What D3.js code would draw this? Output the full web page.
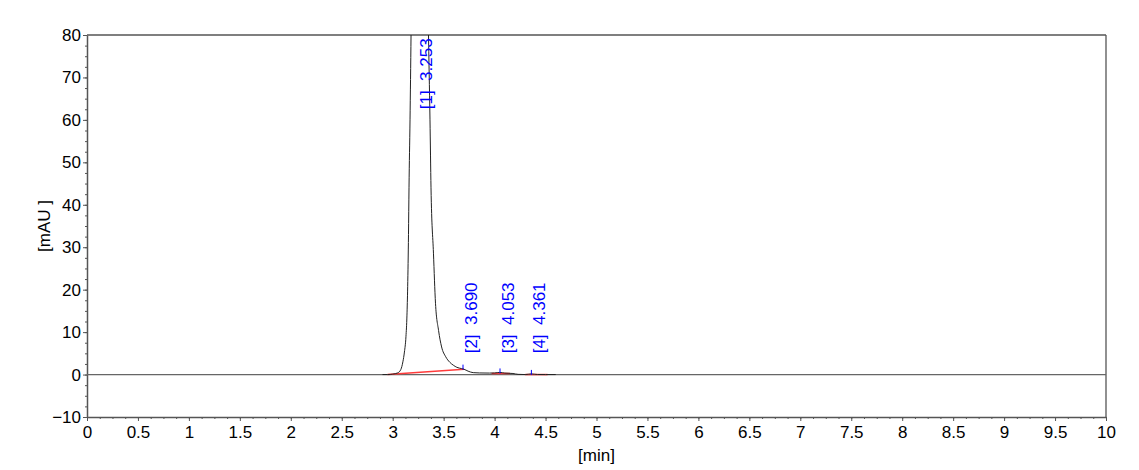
<!DOCTYPE html>
<html>
<head>
<meta charset="utf-8">
<script src="https://cdn.jsdelivr.net/npm/d3@7/dist/d3.min.js"></script>
<style>
  body { margin: 0; background: #fff; }
  text { font-family: Arial, "Liberation Sans", sans-serif; }
</style>
</head>
<body>
<svg id="chart" width="1139" height="470"></svg>
<script>
// chromatogram trace (min, mAU)
const timeMin = [2.90, 2.95, 3.00, 3.05, 3.08, 3.10, 3.115, 3.13, 3.14, 3.147, 3.155, 3.16, 3.17, 3.18, 3.20, 3.22, 3.253,
                 3.29, 3.32, 3.35, 3.366, 3.376, 3.40, 3.42, 3.45, 3.48, 3.52, 3.56, 3.595, 3.63, 3.677,
                 3.70, 3.74, 3.79, 3.85, 3.95, 4.00, 4.05, 4.10, 4.18, 4.23, 4.30, 4.36, 4.42, 4.50, 4.60];
const signalMAU = [0.0, 0.0, 0.1, 0.4, 1.2, 3.0, 5.3, 8.9, 14.0, 20.7, 33.0, 44.0, 60.0, 80.0, 130, 200, 270,
                   210, 140, 82, 60, 44, 28.6, 16.8, 10.4, 6.5, 4.2, 2.9, 2.2, 1.7, 1.4,
                   1.25, 0.8, 0.45, 0.38, 0.35, 0.38, 0.5, 0.35, 0.25, 0.05, 0.0, 0.15, 0.02, 0.0, 0.0];

// peaks
const peakNo = [1, 2, 3, 4];
const peakTime = [3.253, 3.690, 4.053, 4.361];
const peakHeight = [270, 1.4, 0.5, 0.15];
const labelHeight = [62.5, 5.0, 5.0, 5.0];

// integration baselines [min, mAU]
const baseStart = [[2.95, 0.0], [3.97, 0.25], [4.30, 0.0]];
const baseEnd = [[3.70, 1.25], [4.15, 0.25], [4.52, 0.0]];

const xDomain = [0, 10];
const yDomain = [-10, 80];
const xMajor = d3.range(0, 10.001, 0.5);
const xMinor = d3.range(0, 10.001, 0.125);
const yMajor = d3.range(-10, 80.001, 10);
const yMinor = d3.range(-10, 80.001, 2.5);

const margin = { top: 35, right: 33, bottom: 53, left: 87 },
    width = 1139 - margin.left - margin.right,
    height = 470 - margin.top - margin.bottom;

const svg = d3.select("#chart");
const g = svg.append("g").attr("transform", `translate(${margin.left},${margin.top})`);

const xScale = d3.scaleLinear().domain(xDomain).range([0, width]);
const yScale = d3.scaleLinear().domain(yDomain).range([height, 0]);

g.append("clipPath").attr("id", "plotClip")
    .append("rect").attr("width", width).attr("height", height);

const axisColor = "#555";

// minor ticks
g.append("g").attr("transform", `translate(0,${height})`)
    .call(d3.axisBottom(xScale).tickValues(xMinor).tickSize(2).tickFormat(""))
    .call(a => a.select(".domain").remove())
    .selectAll("line").attr("stroke", axisColor);
g.append("g")
    .call(d3.axisLeft(yScale).tickValues(yMinor).tickSize(2).tickFormat(""))
    .call(a => a.select(".domain").remove())
    .selectAll("line").attr("stroke", axisColor);

// major axes
const xAxis = g.append("g").attr("transform", `translate(0,${height})`)
    .call(d3.axisBottom(xScale).tickValues(xMajor).tickSize(4).tickSizeOuter(0).tickPadding(5)
        .tickFormat(d3.format("~g")));
const yAxis = g.append("g")
    .call(d3.axisLeft(yScale).tickValues(yMajor).tickSize(4).tickSizeOuter(0).tickPadding(2)
        .tickFormat(d3.format("~g")));

[xAxis, yAxis].forEach(a => {
    a.select(".domain").attr("stroke", axisColor).attr("stroke-width", 1.5);
    a.selectAll("line").attr("stroke", axisColor);
    a.selectAll("text").attr("fill", "#000").style("font-size", "17px")
        .style("font-family", "Arial, 'Liberation Sans', sans-serif");
});

// frame top/right
g.append("line").attr("x1", 0).attr("x2", width).attr("y1", 0).attr("y2", 0)
    .attr("stroke", axisColor).attr("stroke-width", 1.3);
g.append("line").attr("x1", width).attr("x2", width).attr("y1", 0).attr("y2", height)
    .attr("stroke", axisColor).attr("stroke-width", 1.3);

// zero line
g.append("line").attr("x1", 0).attr("x2", width)
    .attr("y1", yScale(0)).attr("y2", yScale(0))
    .attr("stroke", "#666").attr("stroke-width", 1.3);

const plot = g.append("g").attr("clip-path", "url(#plotClip)");

// baselines
plot.selectAll(".baseline")
    .data(baseStart.map((s, i) => [s, baseEnd[i]]))
    .enter()
    .append("line")
    .attr("class", "baseline")
    .attr("x1", d => xScale(d[0][0])).attr("y1", d => yScale(d[0][1]))
    .attr("x2", d => xScale(d[1][0])).attr("y2", d => yScale(d[1][1]))
    .attr("stroke", "#ff3b3b").attr("stroke-width", 1.5);

// trace
const line = d3.line()
    .x(d => xScale(d[0]))
    .y(d => yScale(d[1]))
    .curve(d3.curveMonotoneX);

plot.append("path")
    .datum(timeMin.map((t, i) => [t, signalMAU[i]]))
    .attr("d", line)
    .attr("fill", "none")
    .attr("stroke", "#222")
    .attr("stroke-width", 1);

// peak marks
plot.selectAll(".peak-mark")
    .data(peakTime)
    .enter()
    .append("line")
    .attr("class", "peak-mark")
    .attr("x1", d => xScale(d)).attr("x2", d => xScale(d))
    .attr("y1", (d, i) => yScale(peakHeight[i]) + 1)
    .attr("y2", (d, i) => yScale(peakHeight[i]) - 4)
    .attr("stroke", "#0000ff").attr("stroke-width", 1);

// peak labels
plot.selectAll(".peak-label")
    .data(peakTime)
    .enter()
    .append("text")
    .attr("class", "peak-label")
    .attr("transform", (d, i) => `translate(${xScale(d)},${yScale(labelHeight[i])}) rotate(-90)`)
    .attr("x", 0)
    .attr("y", 14)
    .attr("fill", "#0000ff")
    .style("font-size", "17px")
    .style("white-space", "pre")
    .text((d, i) => `[${peakNo[i]}]  ${d.toFixed(3)}`);

// axis titles
g.append("text")
    .attr("x", width / 2)
    .attr("y", height + 44)
    .attr("text-anchor", "middle")
    .style("font-size", "17px")
    .text("[min]");

g.append("text")
    .attr("transform", `translate(${-37},${height / 2}) rotate(-90)`)
    .attr("text-anchor", "middle")
    .style("font-size", "17px")
    .style("white-space", "pre")
    .text("[mAU ]");
</script>
</body>
</html>
